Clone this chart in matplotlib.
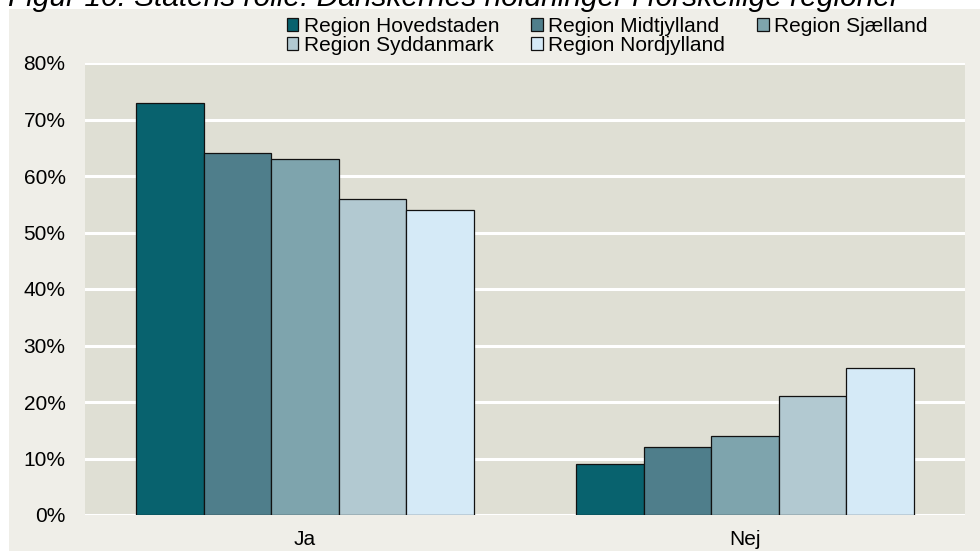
import matplotlib.pyplot as plt
import numpy as np
from matplotlib.patches import Rectangle

plt.rcParams['font.family'] = ['Liberation Sans', 'DejaVu Sans']

# data
kategorier = ['Ja', 'Nej']
regioner = ['Region Hovedstaden', 'Region Midtjylland', 'Region Sjælland',
            'Region Syddanmark', 'Region Nordjylland']
hovedstaden = [73, 9]
midtjylland = [64, 12]
sjaelland = [63, 14]
syddanmark = [56, 21]
nordjylland = [54, 26]
y_ticks = [0, 10, 20, 30, 40, 50, 60, 70, 80]

serier = [hovedstaden, midtjylland, sjaelland, syddanmark, nordjylland]
farver = ['#08626E', '#4F7E8B', '#7EA4AD', '#B2C9D1', '#D5EAF7']

W, H = 980, 551
fig = plt.figure(figsize=(W / 100, H / 100), dpi=100, facecolor='white')

# beige ramme bag diagrammet
fig.patches.append(Rectangle((9 / W, 0), 1, 1 - 9 / H, transform=fig.transFigure,
                             facecolor='#EFEEE8', edgecolor='none', zorder=-5))

# afskåret titel i toppen
fig.text(8 / W, 1 - 6 / H, 'Figur 10: Statens rolle: Danskernes holdninger i forskellige regioner',
         fontsize=21.5, style='italic', va='baseline', ha='left', color='black')

ax = fig.add_axes([85 / W, 1 - 515 / H, 880 / W, 452 / H])
ax.set_facecolor('#DFDFD4')

x = np.arange(len(kategorier))
bw = 0.1536
bars = []
for i, (vals, c) in enumerate(zip(serier, farver)):
    b = ax.bar(x + (i - 2) * bw, vals, width=bw, color=c, edgecolor='#111111',
               linewidth=0.9, zorder=3, label=regioner[i])
    bars.append(b)

ax.set_xlim(-0.5, 1.5)
ax.set_ylim(0, 80)
ax.set_yticks(y_ticks)
ax.set_yticklabels([f'{v}%' for v in y_ticks])
ax.set_xticks(x)
ax.set_xticklabels(kategorier)
ax.tick_params(axis='both', length=0, labelsize=15)
ax.tick_params(axis='y', pad=14)
ax.tick_params(axis='x', pad=11)
ax.yaxis.grid(True, color='white', linewidth=2.2, zorder=1)
ax.set_axisbelow(True)
for s in ax.spines.values():
    s.set_visible(False)

# legend i rækkefølge som i Excel (rækkevis)
orden = [0, 3, 1, 4, 2]
leg = fig.legend([bars[i] for i in orden], [regioner[i] for i in orden],
                 ncol=3, loc='center left', bbox_to_anchor=(287 / W, 1 - 36 / H),
                 frameon=False, fontsize=15, handlelength=0.55, handleheight=0.55,
                 handletextpad=0.25, columnspacing=1.55, labelspacing=0.0,
                 borderpad=0, borderaxespad=0)

fig.savefig('out.png', dpi=100, facecolor='white')
